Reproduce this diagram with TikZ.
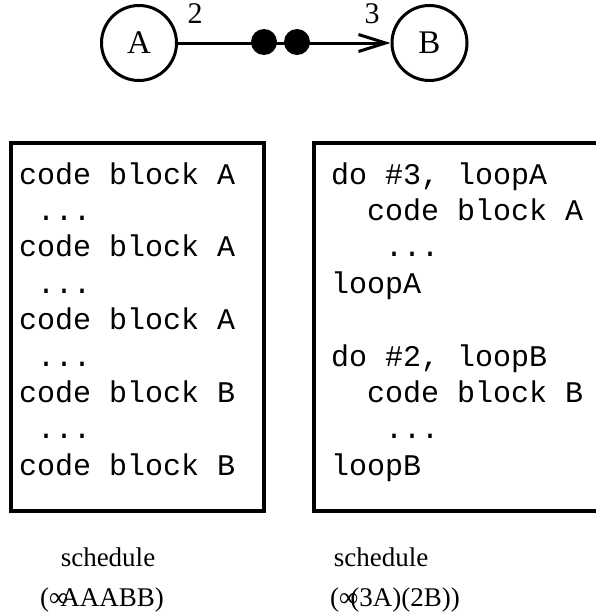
\documentclass[tikz,border=0pt]{standalone}
\usepackage{fontspec}
\setmainfont{Liberation Serif}
\newfontfamily\codefont{Liberation Mono}
\usetikzlibrary{arrows.meta}
\tikzset{
  actor/.style={draw, circle, line width=3pt, minimum size=75pt, inner sep=0pt, font=\fontsize{33}{36}\selectfont},
  token/.style={circle, fill=black, minimum size=26pt, inner sep=0pt},
  rate/.style={font=\fontsize{30}{34}\selectfont, inner sep=0pt},
  frame/.style={line width=3.2pt},
  codetext/.style={anchor=base west, inner sep=0pt, font=\codefont\fontsize{30}{36}\selectfont},
  caption/.style={font=\fontsize{27}{31}\selectfont, inner sep=0pt},
  edge/.style={line width=3pt, -{Straight Barb[length=27pt,width=17pt,line width=3pt]}}
}
\newcommand\mydots{...}
\begin{document}
\begin{tikzpicture}[x=1pt,y=-1pt]
\useasboundingbox (0,0) rectangle (595,616);
% graph
\node[actor] (A) at (139,43) {A};
\node[actor] (B) at (429.5,43) {B};
\node[token] (d1) at (264,42) {};
\node[token] (d2) at (297,42) {};
\draw[edge] (A.east) -- (B.west);
\node[rate] (r2) at (195,14) {2};
\node[rate] (r3) at (372,14) {3};
% left box
\draw[frame] (11,143) rectangle (264,511);
\node[codetext] (L0) at (19,184.0) {code block A};
\node[codetext] (L1) at (19,220.4) {\hphantom{c}\mydots};
\node[codetext] (L2) at (19,256.8) {code block A};
\node[codetext] (L3) at (19,293.2) {\hphantom{c}\mydots};
\node[codetext] (L4) at (19,329.6) {code block A};
\node[codetext] (L5) at (19,366.0) {\hphantom{c}\mydots};
\node[codetext] (L6) at (19,402.4) {code block B};
\node[codetext] (L7) at (19,438.8) {\hphantom{c}\mydots};
\node[codetext] (L8) at (19,475.2) {code block B};
% right box (cut at the page edge)
\draw[frame] (600,143) -- (314,143) -- (314,511) -- (600,511);
\node[codetext] (R0) at (331,184.0) {do \#3, loopA};
\node[codetext] (R1) at (331,220.4) {\hphantom{cc}code block A};
\node[codetext] (R2) at (331,256.8) {\hphantom{ccc}\mydots};
\node[codetext] (R3) at (331,293.2) {loopA};
\node[codetext] (R5) at (331,366.0) {do \#2, loopB};
\node[codetext] (R6) at (331,402.4) {\hphantom{cc}code block B};
\node[codetext] (R7) at (331,438.8) {\hphantom{ccc}\mydots};
\node[codetext] (R8) at (331,475.2) {loopB};
% captions
\node[caption] (s1) at (108,557) {schedule};
\node[caption] (p1) at (102,600) {(∞\kern-0.3emAAABB)};
\node[caption] (s2) at (381,557) {schedule};
\node[caption] (p2) at (395,600) {(∞\kern-0.3em(3A)(2B))};
\end{tikzpicture}
\end{document}
